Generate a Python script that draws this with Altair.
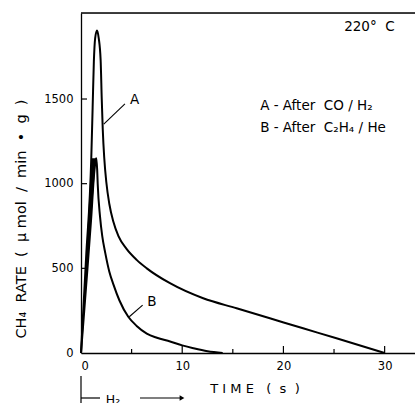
import altair as alt
import pandas as pd

# CH4 formation rate during the H2 flush at 220 °C
time_a = [0, 0.5, 1.02, 1.15, 1.27, 1.4, 1.58, 1.75, 1.94, 2.05, 2.15, 2.3, 2.5, 2.8, 3.2,
          3.7, 4.5, 5.5, 6.5, 8.79, 12.07, 15.37, 18.66, 21.94, 25.24, 30.0]
rate_a = [0, 560, 1160, 1450, 1720, 1860, 1905, 1860, 1730, 1500, 1320, 1150, 1010, 880, 775,
          690, 615, 550, 500, 412, 323, 264, 205, 146, 87, 0]

time_b = [0, 0.5, 1.0, 1.3, 1.45, 1.52, 1.6, 1.65, 1.88, 2.1, 2.4, 2.8, 3.2, 3.8, 4.67, 5.5,
          6.5, 7.5, 8.8, 10.0, 11.1, 12.5, 14.0]
rate_b = [0, 390, 790, 1060, 1140, 1150, 1080, 1000, 805, 690, 590, 480, 405, 310, 214, 160,
          115, 90, 68, 45, 28, 10, 0]

# filled band between the two rising edges
wedge_rate = [0, 1150]
wedge_left = [0, 1.02]
wedge_right = [0, 1.47]

x_labels = [0, 10, 20, 30]
x_major_ticks = [10, 20, 30]
x_minor_ticks = [5, 15, 25]
y_labels = [0, 500, 1000, 1500]
y_ticks = [500, 1000, 1500]

SP = "\u00a0"  # non-collapsing space for letter-spaced labels
FONT = "DejaVu Sans"
W, H = 334, 340
x_scale = alt.Scale(domain=[0, 33], nice=False)
y_scale = alt.Scale(domain=[0, 2008], nice=False)

curves = pd.concat([
    pd.DataFrame({"t": time_a, "rate": rate_a, "run": "A"}),
    pd.DataFrame({"t": time_b, "rate": rate_b, "run": "B"}),
])
wedge = pd.DataFrame({"rate": wedge_rate, "t1": wedge_left, "t2": wedge_right})

x_axis = alt.Axis(values=x_labels, format="d", title=None, ticks=False, grid=False,
                  labelFont=FONT, labelFontSize=11.5, labelColor="black", labelPadding=7,
                  domainColor="black", domainWidth=1.3)
y_axis = alt.Axis(values=y_labels, format="d", title=None, ticks=False, grid=False,
                  labelFont=FONT, labelFontSize=11.5, labelColor="black", labelPadding=8,
                  domainColor="black", domainWidth=1.3)

lines = alt.Chart(curves).mark_line(color="black", strokeWidth=2, interpolate="monotone").encode(
    x=alt.X("t:Q", scale=x_scale, axis=x_axis),
    y=alt.Y("rate:Q", scale=y_scale, axis=y_axis),
    detail="run:N",
)

band = alt.Chart(wedge).mark_area(orient="horizontal", color="black").encode(
    y=alt.Y("rate:Q", scale=y_scale),
    x=alt.X("t1:Q", scale=x_scale),
    x2="t2:Q",
)

# inward tick marks
x_minor = alt.Chart(pd.DataFrame({"t": x_minor_ticks})).mark_rule(color="black", strokeWidth=1.2).encode(
    x=alt.X("t:Q", scale=x_scale), y=alt.value(H), y2=alt.value(H - 4)
)
x_major = alt.Chart(pd.DataFrame({"t": x_major_ticks})).mark_rule(color="black", strokeWidth=1.2).encode(
    x=alt.X("t:Q", scale=x_scale), y=alt.value(H), y2=alt.value(H - 7)
)
y_tick_marks = alt.Chart(pd.DataFrame({"rate": y_ticks})).mark_rule(color="black", strokeWidth=1.2).encode(
    y=alt.Y("rate:Q", scale=y_scale), x=alt.value(0), x2=alt.value(6)
)

top_border = alt.Chart(pd.DataFrame({"k": [0]})).mark_rule(color="black", strokeWidth=1.3).encode(
    y=alt.value(0), x=alt.value(0), x2=alt.value(W)
)

# annotations placed in data coordinates
notes = pd.DataFrame({
    "t": [26.0, 17.7, 17.7, 4.85, 6.55],
    "rate": [1925, 1459, 1329, 1494, 301],
    "label": [f"220°{SP}{SP}C", f"A - After{SP}{SP}CO{SP}/{SP}H₂", f"B - After{SP}{SP}C₂H₄{SP}/{SP}He",
              "A", "B"],
})
note_text = alt.Chart(notes).mark_text(align="left", baseline="middle", font=FONT, fontSize=13.5,
                                       color="black").encode(
    x=alt.X("t:Q", scale=x_scale), y=alt.Y("rate:Q", scale=y_scale), text="label:N"
)

leaders = pd.DataFrame({
    "t": [4.34, 6.09], "rate": [1471, 283],
    "t2": [2.25, 4.77], "rate2": [1352, 214],
})
leader_lines = alt.Chart(leaders).mark_rule(color="black", strokeWidth=1.1).encode(
    x=alt.X("t:Q", scale=x_scale), y=alt.Y("rate:Q", scale=y_scale),
    x2="t2:Q", y2="rate2:Q",
)

y_label_text = (f"CH₄{SP}{SP}RATE{SP}{SP}({SP}{SP}μ{SP}mol{SP}{SP}/{SP}{SP}min{SP}{SP}•{SP}{SP}g{SP}{SP})")
y_title = alt.Chart(pd.DataFrame({"label": [y_label_text]})).mark_text(
    angle=270, font=FONT, fontSize=14.5, color="black", baseline="middle", align="center"
).encode(x=alt.value(-59), y=alt.value(206), text="label:N")

x_title = alt.Chart(pd.DataFrame({"label": [f"T{SP}I{SP}M{SP}E{SP}{SP}{SP}({SP}{SP}s{SP}{SP})"]})).mark_text(
    font=FONT, fontSize=13, color="black", baseline="middle", align="center"
).encode(x=alt.value(174), y=alt.value(376), text="label:N")

# H2 flush marker under the time axis
h2_bar = alt.Chart(pd.DataFrame({"k": [0]})).mark_rule(color="black", strokeWidth=1.2).encode(
    x=alt.value(0), y=alt.value(363), y2=alt.value(395)
)
h2_lines = alt.Chart(pd.DataFrame({"a": [0, 59], "b": [19, 101]})).mark_rule(
    color="black", strokeWidth=1.2
).encode(x=alt.X("a:Q", scale=None), x2="b:Q", y=alt.value(385))
h2_head = alt.Chart(pd.DataFrame({"k": [0]})).mark_point(
    shape="triangle-right", filled=True, color="black", size=30, opacity=1
).encode(x=alt.value(101), y=alt.value(385))
h2_text = alt.Chart(pd.DataFrame({"label": ["H₂"]})).mark_text(
    font=FONT, fontSize=12.5, color="black", baseline="middle", align="center"
).encode(x=alt.value(32), y=alt.value(387), text="label:N")

chart = alt.layer(
    band, lines, x_minor, x_major, y_tick_marks, top_border, note_text, leader_lines,
    y_title, x_title, h2_bar, h2_lines, h2_head, h2_text,
).properties(
    width=W, height=H,
    padding={"left": 81, "top": 13, "right": 0, "bottom": 50},
    autosize=alt.AutoSizeParams(type="none"),
).configure_view(stroke=None).configure(background="white")

chart.save("out.html", embed_options={"renderer": "svg", "actions": False})
